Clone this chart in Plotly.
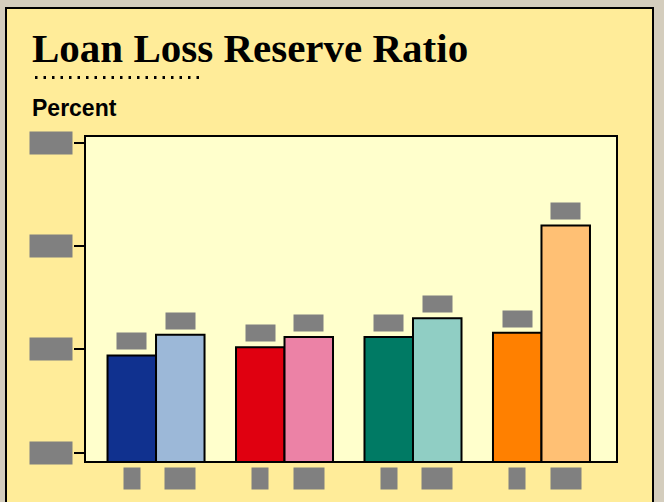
import plotly.graph_objects as go

# data
groups = ["A", "B", "C", "D"]
bar_labels_1 = ["1", "2", "3", "4"]          # hidden category labels (redacted in the original)
bar_labels_2 = ["2009", "2009", "2009", "2009"]
values_1 = [1.47, 1.51, 1.56, 1.58]
values_2 = [1.57, 1.56, 1.65, 2.10]
colors_1 = ["#10318F", "#E00010", "#007A64", "#FF8000"]
colors_2 = ["#9CB8D8", "#EC82A6", "#90CEC4", "#FFC074"]
y_ticks = [1.0, 1.5, 2.0, 2.5]

W, H = 664, 502
L, R, T, B = 86, 48, 137, 41
PW, PH = W - L - R, H - T - B


def px(x):
    return (x - L) / PW


def py(y):
    return (H - B - y) / PH


BARGAP = 0.245
bar_w = (1 - BARGAP) / 2
xs = list(range(len(groups)))

fig = go.Figure()
fig.add_trace(go.Bar(x=xs, y=values_1, marker=dict(color=colors_1, line=dict(color="black", width=2)),
                     offsetgroup="a", name="1"))
fig.add_trace(go.Bar(x=xs, y=values_2, marker=dict(color=colors_2, line=dict(color="black", width=2)),
                     offsetgroup="b", name="2"))

gray = "#808080"
annotations = []

# y tick labels (redacted boxes)
for v in y_ticks:
    annotations.append(dict(xref="paper", yref="y", x=px(51), y=v, text=f"{v:.1f}",
                            showarrow=False, bgcolor=gray, font=dict(color=gray, size=12),
                            width=42, height=22, borderpad=0, xanchor="center", yanchor="middle"))

# value labels and category labels (redacted boxes)
for i in xs:
    for k, (vals, labs, w) in enumerate([(values_1, bar_labels_1, 16), (values_2, bar_labels_2, 30)]):
        cx = i + (k - 0.5) * bar_w
        annotations.append(dict(xref="x", yref="y", x=cx, y=vals[i], text=f"{vals[i]:.2f}",
                                showarrow=False, bgcolor=gray, font=dict(color=gray, size=11),
                                width=29, height=16, borderpad=0, yanchor="bottom", yshift=5))
        annotations.append(dict(xref="x", yref="paper", x=cx, y=py(478.5), text=labs[i],
                                showarrow=False, bgcolor=gray, font=dict(color=gray, size=12),
                                width=w, height=21, borderpad=0, yanchor="middle"))

annotations.append(dict(xref="paper", yref="paper", x=px(30), y=py(48), text="<b>Loan Loss Reserve Ratio</b>",
                        showarrow=False, xanchor="left", yanchor="middle",
                        font=dict(family="Liberation Serif", size=41, color="black")))
annotations.append(dict(xref="paper", yref="paper", x=px(30), y=py(108), text="<b>Percent</b>",
                        showarrow=False, xanchor="left", yanchor="middle",
                        font=dict(family="Liberation Sans", size=23, color="black")))

shapes = [
    dict(type="rect", xref="paper", yref="paper", x0=px(6), x1=px(653), y0=py(520), y1=py(8),
         fillcolor="#FFEC99", line=dict(color="black", width=2), layer="below"),
    dict(type="rect", xref="paper", yref="paper", x0=0, x1=1, y0=0, y1=1,
         fillcolor="#FFFFCC", line=dict(width=0), layer="below"),
    dict(type="line", xref="paper", yref="paper", x0=px(35), x1=px(200), y0=py(77.5), y1=py(77.5),
         line=dict(color="black", width=3, dash="2.5px,6px")),
]

fig.update_layout(
    width=W, height=H,
    margin=dict(l=L, r=R, t=T, b=B),
    paper_bgcolor="#D4CDBD",
    plot_bgcolor="rgba(0,0,0,0)",
    barmode="group",
    bargap=BARGAP,
    bargroupgap=0,
    showlegend=False,
    annotations=annotations,
    shapes=shapes,
)
fig.update_xaxes(range=[-0.545, 3.58], showticklabels=False, ticks="", showgrid=False, zeroline=False,
                 showline=True, linecolor="black", linewidth=2, mirror=True)
fig.update_yaxes(range=[0.959, 2.528], tickvals=y_ticks, showticklabels=False, ticks="outside",
                 ticklen=10, tickwidth=2, tickcolor="black", showgrid=False, zeroline=False,
                 showline=True, linecolor="black", linewidth=2, mirror=True)

# page body has a default 8px margin; drop it so the figure sits at the window corner
fig.write_html("out.html", config={"displayModeBar": False},
               post_script="document.body.style.margin='0px';")
